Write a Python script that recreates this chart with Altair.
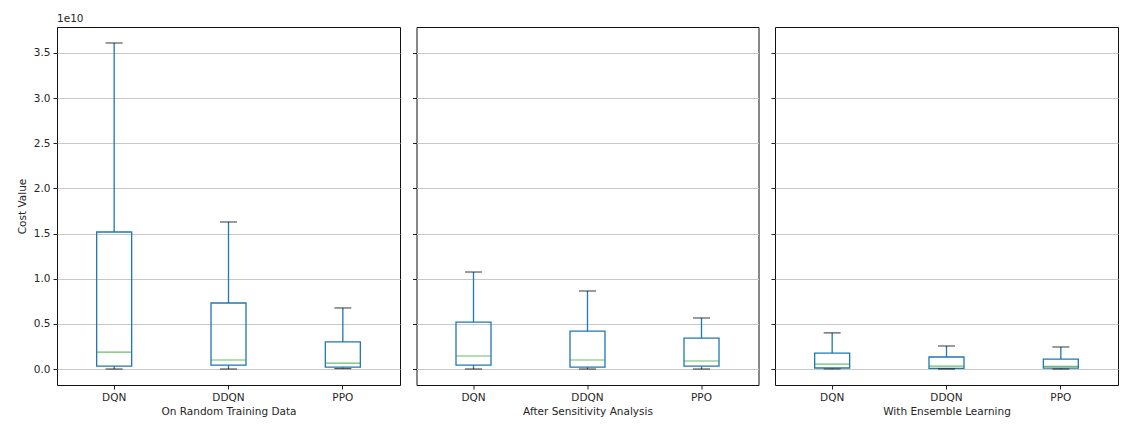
import altair as alt
import pandas as pd

panels = ["On Random Training Data", "After Sensitivity Analysis", "With Ensemble Learning"]
algos = ["DQN", "DDQN", "PPO"]

# values in units of 1e10, per panel, order DQN, DDQN, PPO
whisker_low = [[0.0, 0.0, 0.005], [0.0, 0.0, 0.0], [0.0, 0.0, 0.0]]
q1 = [[0.033, 0.044, 0.02], [0.044, 0.022, 0.033], [0.011, 0.007, 0.01]]
median = [[0.188, 0.10, 0.066], [0.144, 0.10, 0.089], [0.055, 0.033, 0.03]]
q3 = [[1.517, 0.731, 0.30], [0.52, 0.42, 0.343], [0.177, 0.133, 0.11]]
whisker_high = [[3.61, 1.628, 0.676], [1.074, 0.864, 0.565], [0.40, 0.255, 0.244]]

yticks = [0.0, 0.5, 1.0, 1.5, 2.0, 2.5, 3.0, 3.5]

rows = []
for p in range(3):
    for a in range(3):
        rows.append({"panel": panels[p], "algo": algos[a],
                     "lo": whisker_low[p][a], "q1": q1[p][a], "med": median[p][a],
                     "q3": q3[p][a], "hi": whisker_high[p][a]})
df = pd.DataFrame(rows)

FONT = "DejaVu Sans"
FS = 10.5
BLUE = "#1f77b4"
TXT = "#262626"
LW = 1.3
yscale = alt.Scale(domain=[-0.177, 3.787], nice=False, zero=False)


def panel_chart(i):
    d = df[df.panel == panels[i]]
    base = alt.Chart(d)
    if i == 0:
        yaxis = alt.Axis(values=yticks, format=".1f", title="Cost Value", grid=True,
                         gridColor="#c8c8c8", domain=False, tickColor="#222",
                         tickSize=4, labelPadding=3, titlePadding=6)
    else:
        yaxis = alt.Axis(values=yticks, labels=False, title=None, grid=True,
                         gridColor="#c8c8c8", domain=False, tickColor="#222", tickSize=4,
                         minExtent=0, maxExtent=4)
    xenc = alt.X("algo:N", sort=algos,
                 scale=alt.Scale(paddingInner=0, paddingOuter=0),
                 axis=alt.Axis(title=panels[i], labelAngle=0, domain=False, grid=False,
                               tickColor="#222", tickSize=4, labelPadding=3, titlePadding=4))
    whisk_up = base.mark_rule(color=BLUE, strokeWidth=LW).encode(
        x=xenc, y=alt.Y("q3:Q", scale=yscale, axis=yaxis), y2="hi:Q")
    whisk_dn = base.mark_rule(color=BLUE, strokeWidth=LW).encode(
        x=alt.X("algo:N", sort=algos), y=alt.Y("lo:Q"), y2="q1:Q")
    box = base.mark_bar(filled=False, stroke=BLUE, strokeWidth=LW, size=35).encode(
        x=alt.X("algo:N", sort=algos), y=alt.Y("q1:Q"), y2="q3:Q")
    med = base.mark_tick(color="#2ca02c", size=35, thickness=1.2, orient="horizontal").encode(
        x=alt.X("algo:N", sort=algos), y=alt.Y("med:Q"))
    cap_hi = base.mark_tick(color="#111", size=17, thickness=1.2, orient="horizontal").encode(
        x=alt.X("algo:N", sort=algos), y=alt.Y("hi:Q"))
    cap_lo = base.mark_tick(color="#111", size=17, thickness=1.2, orient="horizontal").encode(
        x=alt.X("algo:N", sort=algos), y=alt.Y("lo:Q"))
    w = 342 if i == 1 else 343
    layer = alt.layer(whisk_up, whisk_dn, box, med, cap_hi, cap_lo).properties(
        width=w, height=358)
    if i == 0:
        layer = layer.properties(title=alt.TitleParams("1e10", anchor="start", frame="group",
                                                       fontSize=FS, fontWeight="normal",
                                                       font=FONT, offset=3, color=TXT))
    else:
        layer = layer.properties(title=alt.TitleParams(" ", fontSize=FS, offset=3))
    return layer


chart = alt.hconcat(panel_chart(0), panel_chart(1), panel_chart(2), spacing=10.5).resolve_scale(
    y="shared").configure_view(stroke="#111", strokeWidth=1).configure_axis(
    labelFont=FONT, titleFont=FONT, labelFontSize=FS, titleFontSize=FS,
    labelColor=TXT, titleColor=TXT, titleFontWeight="normal").properties(
    padding={"left": 8, "top": 5, "right": 5, "bottom": 5}, background="white")

chart.save("out.html", embed_options={"renderer": "svg", "actions": False})
